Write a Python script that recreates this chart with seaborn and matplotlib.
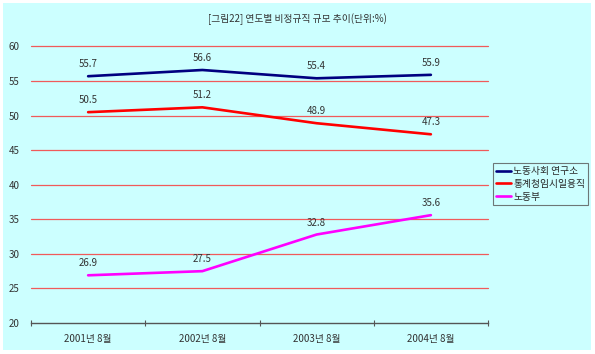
import pandas as pd
import seaborn as sns
import matplotlib.pyplot as plt
from matplotlib.patches import Rectangle

years = ["2001년 8월", "2002년 8월", "2003년 8월", "2004년 8월"]
series_names = ["노동사회 연구소", "통계청임시일용직", "노동부"]
labor_inst = [55.7, 56.6, 55.4, 55.9]
stat_office = [50.5, 51.2, 48.9, 47.3]
labor_min = [26.9, 27.5, 32.8, 35.6]
colors = ["#000080", "#ff0000", "#ff00ff"]

rows = []
for name, vals in zip(series_names, [labor_inst, stat_office, labor_min]):
    for i, v in enumerate(vals):
        rows.append({"x": i, "year": years[i], "series": name, "value": v})
df = pd.DataFrame(rows)

sns.set_style("white")
plt.rcParams["font.family"] = ["Noto Sans CJK KR", "DejaVu Sans"]

fig = plt.figure(figsize=(5.95, 3.54), dpi=100)
fig.patch.set_facecolor("white")
fig.patches.append(Rectangle((3 / 595, 4 / 354), 588 / 595, 347 / 354,
                             transform=fig.transFigure, facecolor="#ccffff",
                             edgecolor="none", zorder=-5))
ax = fig.add_axes([31 / 595, 1 - 323 / 354, 457 / 595, (323 - 46.5) / 354])
ax.set_facecolor("none")
ax.set_zorder(2)

sns.lineplot(data=df, x="x", y="value", hue="series", hue_order=series_names,
             palette=colors, linewidth=1.9, ax=ax, legend=True)

for name, vals in zip(series_names, [labor_inst, stat_office, labor_min]):
    for i, v in enumerate(vals):
        ax.annotate(f"{v}", (i, v), xytext=(0, 5), textcoords="offset points",
                    ha="center", va="bottom", fontsize=7, color="#333333")

ax.set_xlim(-0.5, 3.5)
ax.set_ylim(20, 60)
ax.set_yticks(range(20, 61, 5))
ax.set_xticks([0, 1, 2, 3])
ax.set_xticklabels(years)
ax.set_xticks([-0.5, 0.5, 1.5, 2.5, 3.5], minor=True)
ax.tick_params(axis="x", which="major", bottom=False, length=0, pad=8,
               labelsize=7, colors="#333333")
ax.tick_params(axis="x", which="minor", bottom=True, length=4, width=0.8,
               direction="inout", color="#555555")
ax.tick_params(axis="y", left=False, length=0, pad=8, labelsize=7, colors="#333333")
for v in range(25, 61, 5):
    ax.axhline(v, color="#f05a5a", linewidth=0.9, zorder=0, clip_on=False)
for s in ["left", "right", "top"]:
    ax.spines[s].set_visible(False)
ax.spines["bottom"].set_color("#555555")
ax.spines["bottom"].set_linewidth(1)
ax.set_xlabel("")
ax.set_ylabel("")

leg = ax.legend(loc="upper left", bbox_to_anchor=(493 / 595, 1 - 163 / 354),
                bbox_transform=fig.transFigure, fontsize=7, frameon=True,
                fancybox=False, edgecolor="#555555", facecolor="#ccffff",
                handlelength=1.6, handletextpad=0.2, borderpad=0.3,
                labelspacing=0.3, borderaxespad=0)
leg.get_frame().set_linewidth(0.8)

fig.text(297 / 595, 1 - 19 / 354, "[그림22] 연도별 비정규직 규모 추이(단위:%)",
         ha="center", va="center", fontsize=7, color="#333333")

fig.savefig("out.png", dpi=100)
